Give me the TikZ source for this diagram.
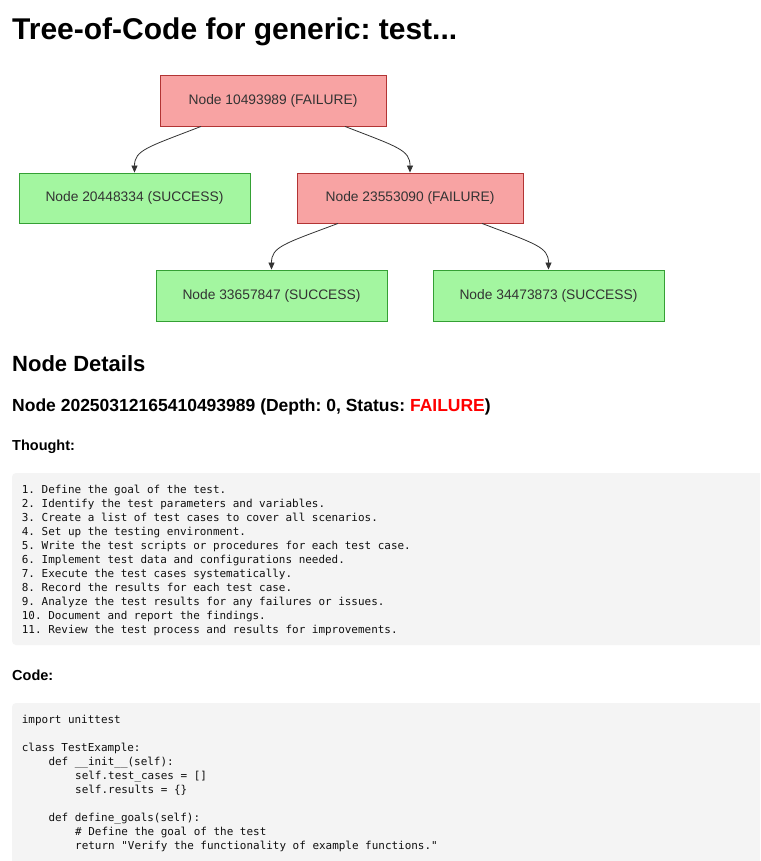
\documentclass[tikz,border=0pt]{standalone}
\usepackage{fontspec}
\setmainfont{Liberation Sans}
\setmonofont{DejaVu Sans Mono}
\usetikzlibrary{arrows.meta,calc}
\definecolor{failfill}{RGB}{248,163,163}
\definecolor{failline}{RGB}{178,52,52}
\definecolor{okfill}{RGB}{163,246,160}
\definecolor{okline}{RGB}{52,160,52}
\definecolor{edgecol}{RGB}{51,51,51}
\definecolor{codebg}{RGB}{244,244,244}
\definecolor{nodetext}{RGB}{51,51,51}
\definecolor{codetext}{RGB}{15,15,15}
\frenchspacing
\tikzset{
  treebox/.style={draw, line width=0.9pt, inner sep=0pt, font=\fontsize{13.8}{16}\selectfont, text=nodetext, minimum height=51pt},
  failbox/.style={treebox, fill=failfill, draw=failline, minimum width=226pt},
  okbox/.style={treebox, fill=okfill, draw=okline, minimum width=231pt},
  edge/.style={draw=edgecol, line width=0.8pt, -{Triangle[length=7pt,width=6pt]}},
  heading/.style={anchor=base west, inner sep=0pt, font=\bfseries},
  codeline/.style={anchor=base west, inner sep=0pt, font=\fontsize{10.95}{14}\ttfamily, text=codetext},
  graybox/.style={fill=codebg, rounded corners=4pt}
}
\begin{document}
\begin{tikzpicture}[x=1pt,y=-1pt]
\useasboundingbox (0,0) rectangle (760,861);
\fill[white] (0,0) rectangle (760,861);

% title
\node[heading, font=\fontsize{30}{34}\bfseries\selectfont] (title) at (12,40) {Tree-of-Code for generic: test...};

% tree
\node[failbox] (n1) at (273,100.5) {Node 10493989 (FAILURE)};
\node[okbox, minimum height=50pt] (n2) at (134.5,198) {Node 20448334 (SUCCESS)};
\node[failbox, minimum height=50pt] (n3) at (410,198) {Node 23553090 (FAILURE)};
\node[okbox] (n4) at (271.5,295.5) {Node 33657847 (SUCCESS)};
\node[okbox] (n5) at (548.5,295.5) {Node 34473873 (SUCCESS)};

\draw[edge] ([xshift=-72pt]n1.south) .. controls (148,147) and (134.5,150) .. (n2.north);
\draw[edge] ([xshift=72pt]n1.south) .. controls (398,147) and (410,150) .. (n3.north);
\draw[edge] ([xshift=-72pt]n3.south) .. controls (283,244) and (271.5,247) .. (n4.north);
\draw[edge] ([xshift=72pt]n3.south) .. controls (536,244) and (548.5,247) .. (n5.north);

% details
\node[heading, font=\fontsize{22}{26}\bfseries\selectfont] (details) at (12,371) {Node Details};
\node[heading, font=\fontsize{17.5}{21}\bfseries\selectfont] (nodeinfo) at (12,411) {Node 20250312165410493989 (Depth: 0, Status: \textcolor{red}{FAILURE})};
\node[heading, font=\fontsize{14.5}{17}\bfseries\selectfont] (thoughtlbl) at (12,450) {Thought:};

\begin{scope}
\clip (0,0) rectangle (760,861);
\path[graybox] (12,473) rectangle (800,645);
\path[graybox] (12,703) rectangle (800,900);
\end{scope}
\node[codeline] (t1) at (21.7,493) {1. Define the goal of the test.};
\node[codeline] (t2) at (21.7,507) {2. Identify the test parameters and variables.};
\node[codeline] (t3) at (21.7,521) {3. Create a list of test cases to cover all scenarios.};
\node[codeline] (t4) at (21.7,535) {4. Set up the testing environment.};
\node[codeline] (t5) at (21.7,549) {5. Write the test scripts or procedures for each test case.};
\node[codeline] (t6) at (21.7,563) {6. Implement test data and configurations needed.};
\node[codeline] (t7) at (21.7,577) {7. Execute the test cases systematically.};
\node[codeline] (t8) at (21.7,591) {8. Record the results for each test case.};
\node[codeline] (t9) at (21.7,605) {9. Analyze the test results for any failures or issues.};
\node[codeline] (t10) at (21.7,619) {10. Document and report the findings.};
\node[codeline] (t11) at (21.7,633) {11. Review the test process and results for improvements.};

\node[heading, font=\fontsize{14.5}{17}\bfseries\selectfont] (codelbl) at (12,680) {Code:};

\node[codeline] (c1) at (21.7,723) {import unittest};
\node[codeline] (c3) at (21.7,751) {class TestExample:};
\node[codeline] (c4) at (48.3,765) {def \_\_init\_\_(self):};
\node[codeline] (c5) at (75,779) {self.test\_cases = []};
\node[codeline] (c6) at (75,793) {self.results = \{\}};
\node[codeline] (c8) at (48.3,821) {def define\_goals(self):};
\node[codeline] (c9) at (75,835) {\# Define the goal of the test};
\node[codeline] (c10) at (75,849) {return "Verify the functionality of example functions."};
\end{tikzpicture}
\end{document}
